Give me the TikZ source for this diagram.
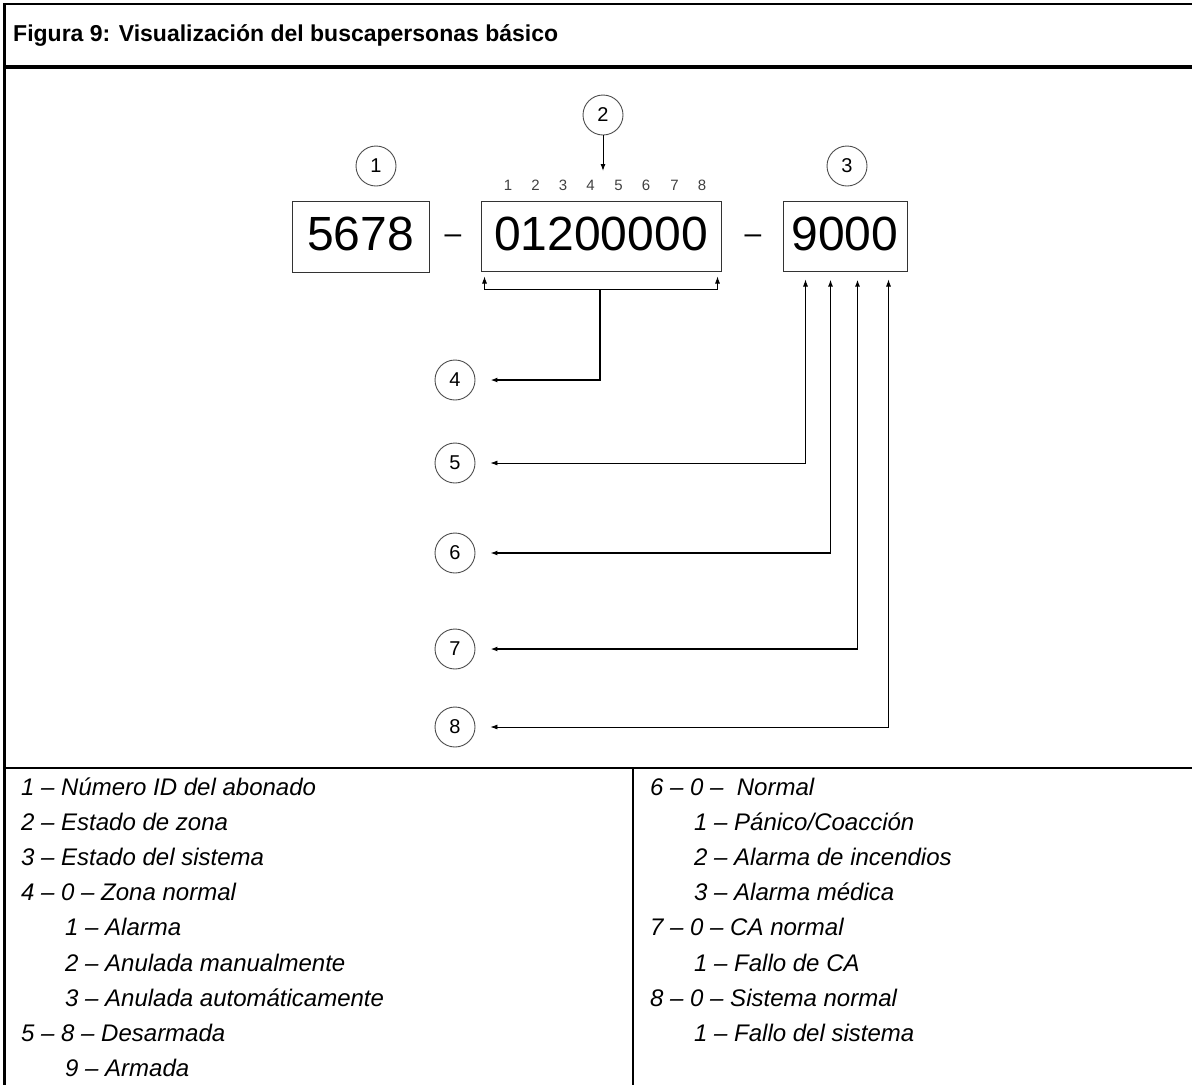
\documentclass[tikz,border=0pt]{standalone}
\usepackage{fontspec}
\setmainfont{Liberation Sans}
\usetikzlibrary{arrows.meta}
\begin{document}
\begin{tikzpicture}[x=1pt,y=-1pt,
  circ/.style={circle, draw=black!70, line width=0.9pt, minimum size=40pt, inner sep=0pt, font=\fontsize{20}{20}\selectfont},
  digbox/.style={draw=black!80, line width=1pt, inner sep=0pt, text depth=5pt, font=\fontsize{48}{48}\selectfont},
  small/.style={inner sep=0pt, text=black!75, font=\fontsize{15}{15}\selectfont},
  tipend/.style={-{Latex[length=7pt,width=5pt]}},
  tipboth/.style={{Latex[length=7pt,width=5pt]}-{Latex[length=7pt,width=5pt]}},
  leg/.style={anchor=base west, inner sep=0pt, font=\fontsize{24}{24}\selectfont\itshape},
  frame/.style={line width=2.2pt}
]
\useasboundingbox (0,0) rectangle (1192,1085);
% frame
\draw[frame] (1192,4.3) -- (4.5,4.3) -- (4.5,1085);
\draw[line width=4pt] (4.5,67) -- (1192,67);
\draw[line width=2.6pt] (4.5,768) -- (1192,768);
\draw[line width=2.6pt] (633,768) -- (633,1085);
\node[anchor=base west, inner sep=0pt, font=\fontsize{23}{23}\selectfont\bfseries] (title) at (13,41) {Figura 9: Visualización del buscapersonas básico};

% boxes
\node[digbox, minimum width=137pt, minimum height=71pt] (b1) at (360.5,236.5) {5678};
\node[digbox, minimum width=240pt, minimum height=70pt] (b2) at (601,236) {01200000};
\node[digbox, minimum width=124pt, minimum height=70pt] (b3) at (845,236) {9000};
\node[inner sep=0pt, font=\fontsize{30}{30}\selectfont] (dash1) at (453,239) {–};
\node[inner sep=0pt, font=\fontsize{30}{30}\selectfont] (dash2) at (753,239) {–};

% digit positions
\foreach \i/\x in {1/508,2/535.5,3/563,4/590.5,5/618.5,6/646,7/674.5,8/702}
  \node[small] (p\i) at (\x,185) {\i};

% circles
\node[circ] (c1) at (376,166) {1};
\node[circ] (c2) at (603,115) {2};
\node[circ] (c3) at (847,166) {3};
\node[circ] (c4) at (455,380) {4};
\node[circ] (c5) at (455,463) {5};
\node[circ] (c6) at (455,553) {6};
\node[circ] (c7) at (455,649) {7};
\node[circ] (c8) at (455,727) {8};

% connectors
\coordinate (d2) at (603,171);
\draw[tipend, line width=1pt] (c2.south) -- (d2);

\coordinate (bm) at (600,289);
\draw[tipend, line width=0.8pt] (bm) -| ([shift={(4,5)}]b2.south west);
\draw[tipend, line width=0.8pt] (bm) -| ([shift={(-4,5)}]b2.south east);
\draw[tipend, line width=1.8pt] (bm) |- ([xshift=15pt]c4.east);

\draw[tipboth, line width=0.8pt] ([xshift=15pt]c5.east) -| ([shift={(23,8)}]b3.south west);
\draw[tipboth, line width=1.3pt] ([xshift=15pt]c6.east) -| ([shift={(48,8)}]b3.south west);
\draw[tipboth, line width=1.5pt] ([xshift=15pt]c7.east) -| ([shift={(75,8)}]b3.south west);
\draw[tipboth, line width=0.8pt] ([xshift=15pt]c8.east) -| ([shift={(106,8)}]b3.south west);

% legend left
\node[leg] (l1) at (21,795.5) {1 – Número ID del abonado};
\node[leg] (l2) at (21,830.6) {2 – Estado de zona};
\node[leg] (l3) at (21,865.7) {3 – Estado del sistema};
\node[leg] (l4) at (21,900.8) {4 – 0 – Zona normal};
\node[leg] (l5) at (65,935.9) {1 – Alarma};
\node[leg] (l6) at (65,971) {2 – Anulada manualmente};
\node[leg] (l7) at (65,1006.1) {3 – Anulada automáticamente};
\node[leg] (l8) at (21,1041.2) {5 – 8 – Desarmada};
\node[leg] (l9) at (65,1076.3) {9 – Armada};
% legend right
\node[leg] (r1) at (650,795.5) {6 – 0 – \ Normal};
\node[leg] (r2) at (694,830.6) {1 – Pánico/Coacción};
\node[leg] (r3) at (694,865.7) {2 – Alarma de incendios};
\node[leg] (r4) at (694,900.8) {3 – Alarma médica};
\node[leg] (r5) at (650,935.9) {7 – 0 – CA normal};
\node[leg] (r6) at (694,971) {1 – Fallo de CA};
\node[leg] (r7) at (650,1006.1) {8 – 0 – Sistema normal};
\node[leg] (r8) at (694,1041.2) {1 – Fallo del sistema};
\end{tikzpicture}
\end{document}
